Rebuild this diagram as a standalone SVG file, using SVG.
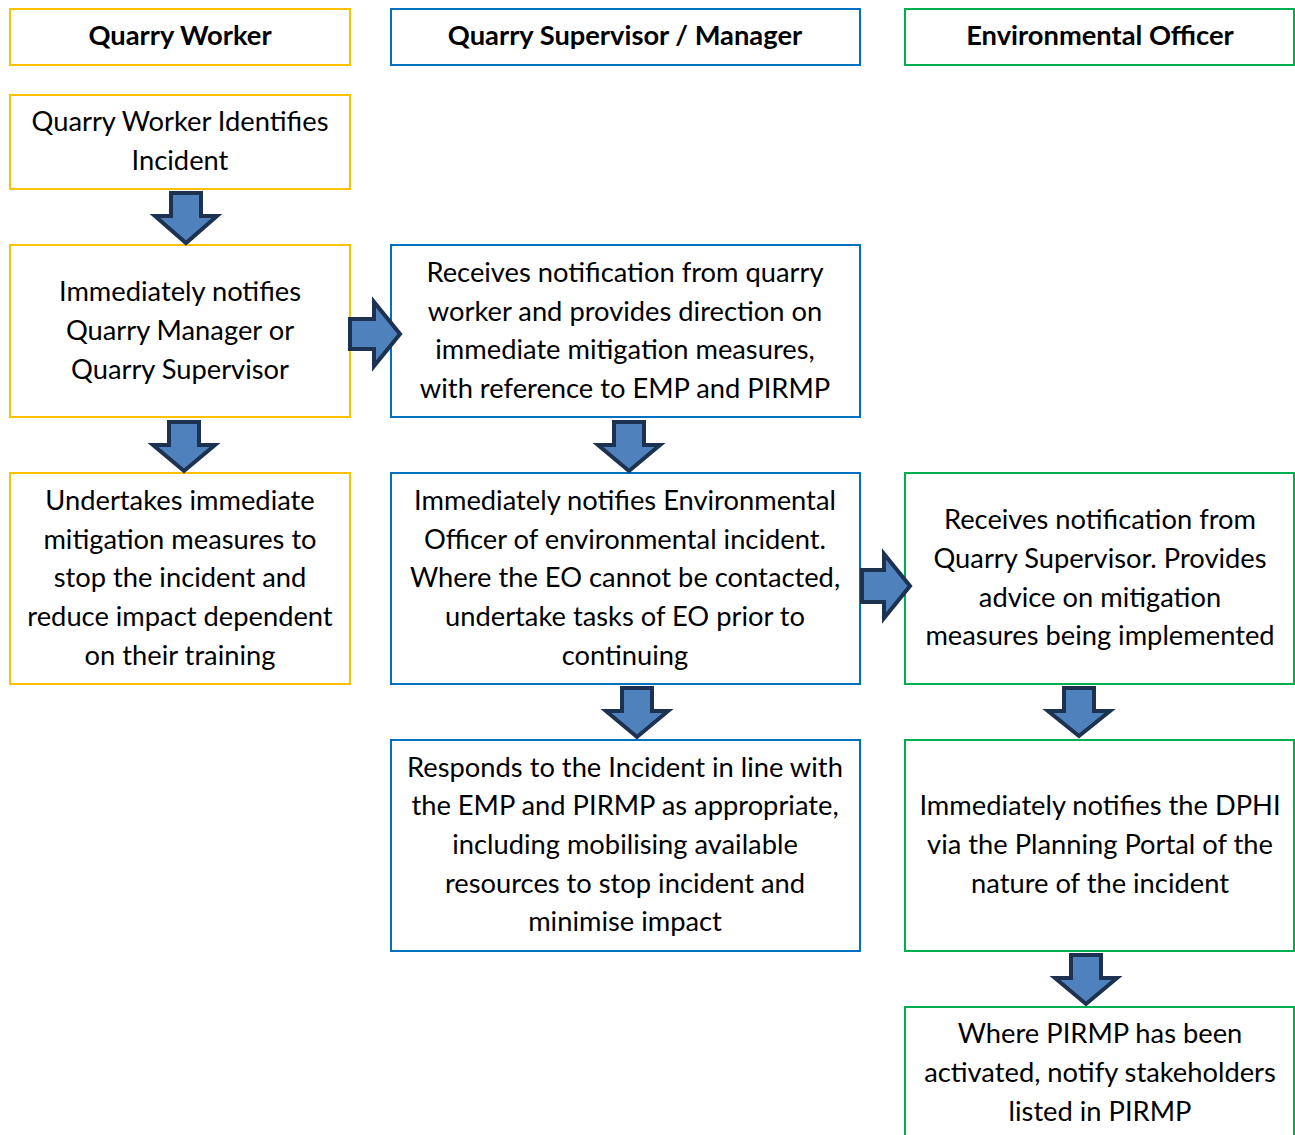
<svg xmlns="http://www.w3.org/2000/svg" width="1295" height="1135" viewBox="0 0 1295 1135">
<style>
.box{fill:#fff;stroke-width:2}
.y{stroke:#FFC000}.b{stroke:#0070C0}.g{stroke:#00B050}
text{font-family:Lato,"Liberation Sans",sans-serif;font-size:27.3px;fill:#000;text-anchor:middle}
.h{font-weight:bold}
.arr{fill:#4F81BD;stroke:#1D3250;stroke-width:4;stroke-linejoin:miter}
</style>
<rect width="1295" height="1135" fill="#fff"/>
<g id="h1"><rect class="box y" x="10" y="9" width="340" height="56"/><text class="h" x="180" y="45">Quarry Worker</text></g>
<g id="h2"><rect class="box b" x="391" y="9" width="469" height="56"/><text class="h" x="625" y="45">Quarry Supervisor / Manager</text></g>
<g id="h3"><rect class="box g" x="905" y="9" width="389" height="56"/><text class="h" x="1100" y="45">Environmental Officer</text></g>

<g id="qw1"><rect class="box y" x="10" y="95" width="340" height="94"/><text x="180" y="131">Quarry Worker Identifies</text><text x="180" y="170">Incident</text></g>
<g id="qw2"><rect class="box y" x="10" y="245" width="340" height="172"/><text x="180" y="301">Immediately notifies</text><text x="180" y="340">Quarry Manager or</text><text x="180" y="379">Quarry Supervisor</text></g>
<g id="qw3"><rect class="box y" x="10" y="473" width="340" height="211"/><text x="180" y="510">Undertakes immediate</text><text x="180" y="549">mitigation measures to</text><text x="180" y="587">stop the incident and</text><text x="180" y="626">reduce impact dependent</text><text x="180" y="665">on their training</text></g>

<g id="s1"><rect class="box b" x="391" y="245" width="469" height="172"/><text x="625" y="282">Receives notification from quarry</text><text x="625" y="321">worker and provides direction on</text><text x="625" y="359">immediate mitigation measures,</text><text x="625" y="398">with reference to EMP and PIRMP</text></g>
<g id="s2"><rect class="box b" x="391" y="473" width="469" height="211"/><text x="625" y="510">Immediately notifies Environmental</text><text x="625" y="549">Officer of environmental incident.</text><text x="625" y="587">Where the EO cannot be contacted,</text><text x="625" y="626">undertake tasks of EO prior to</text><text x="625" y="665">continuing</text></g>
<g id="s3"><rect class="box b" x="391" y="740" width="469" height="211"/><text x="625" y="777">Responds to the Incident in line with</text><text x="625" y="815">the EMP and PIRMP as appropriate,</text><text x="625" y="854">including mobilising available</text><text x="625" y="893">resources to stop incident and</text><text x="625" y="931">minimise impact</text></g>

<g id="e1"><rect class="box g" x="905" y="473" width="389" height="211"/><text x="1100" y="529">Receives notification from</text><text x="1100" y="568">Quarry Supervisor. Provides</text><text x="1100" y="607">advice on mitigation</text><text x="1100" y="645">measures being implemented</text></g>
<g id="e2"><rect class="box g" x="905" y="740" width="389" height="211"/><text x="1100" y="815">Immediately notifies the DPHI</text><text x="1100" y="854">via the Planning Portal of the</text><text x="1100" y="893">nature of the incident</text></g>
<g id="e3"><rect class="box g" x="905" y="1007" width="389" height="140"/><text x="1100" y="1043">Where PIRMP has been</text><text x="1100" y="1082">activated, notify stakeholders</text><text x="1100" y="1121">listed in PIRMP</text></g>

<g id="connectors">
<path class="arr" d="M171,193 H201 V216 H217 L186,243 L155,216 H171 Z"/>
<path class="arr" d="M169,422 H199 V445 H215 L184,471 L153,445 H169 Z"/>
<path class="arr" d="M614,422 H644 V445 H660 L629,471 L598,445 H614 Z"/>
<path class="arr" d="M622,688 H652 V711 H668 L637,737 L606,711 H622 Z"/>
<path class="arr" d="M1064,688 H1094 V711 H1110 L1079,736 L1048,711 H1064 Z"/>
<path class="arr" d="M1071,955 H1101 V978 H1117 L1086,1004 L1055,978 H1071 Z"/>
<path class="arr" d="M350,319 H374 V302 L400,334 L374,366 V349 H350 Z"/>
<path class="arr" d="M862,570 H884 V554 L910,586 L884,618 V602 H862 Z"/>
</g>
</svg>
